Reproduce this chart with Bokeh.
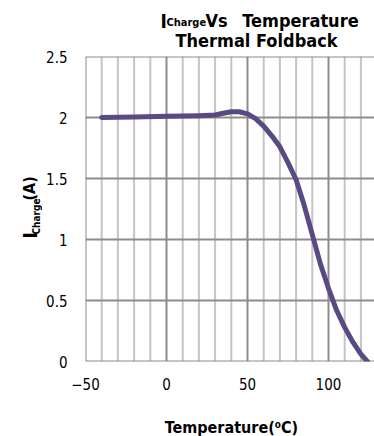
import math
from bokeh.plotting import figure
from bokeh.models import Range1d, Label, FixedTicker
from bokeh.layouts import column, row
from bokeh.embed import file_html
from bokeh.resources import INLINE

# data
temp = [-40, -20, 0, 20, 30, 35, 40, 45, 50, 55, 60, 65, 70, 75, 80, 85, 90, 95, 100, 105, 110, 115, 120, 124]
icharge = [2.00, 2.005, 2.01, 2.015, 2.02, 2.035, 2.047, 2.047, 2.03, 1.99, 1.93, 1.85, 1.76, 1.63, 1.49, 1.28, 1.04, 0.80, 0.60, 0.42, 0.28, 0.16, 0.06, 0.0]
x_ticks = [-50, 0, 50, 100]
x_minor = [-40, -30, -20, -10, 10, 20, 30, 40, 60, 70, 80, 90, 110, 120]
y_ticks = [0, 0.5, 1, 1.5, 2, 2.5]

FONT = "DejaVu Sans Condensed"


def blank(w, h):
    f = figure(width=w, height=h, output_backend="svg", toolbar_location=None,
               x_axis_location=None, y_axis_location=None,
               x_range=Range1d(0, 1), y_range=Range1d(0, 1),
               min_border=0, min_border_left=0, min_border_right=0,
               min_border_top=0, min_border_bottom=0)
    f.outline_line_color = None
    f.xgrid.visible = False
    f.ygrid.visible = False
    return f


def lab(f, x, y, text, size, bold=True, angle=0, align="left"):
    f.add_layout(Label(x=x, y=y, x_units="screen", y_units="screen", text=text,
                       text_font=FONT, text_font_size=size,
                       text_font_style="bold" if bold else "normal",
                       angle=angle, text_align=align, text_baseline="alphabetic",
                       text_color="black"))


# ---- title strip (visible page y 0..50; its frame bottom lands at page 56)
TH = 50
TB = 56
tf = blank(374, TH)
lab(tf, 160, TB - 26, "I", "19px")
lab(tf, 166, TB - 28, "Charge", "11px")
lab(tf, 205, TB - 26, "Vs", "18px")
lab(tf, 300, TB - 26, "Temperature", "18px", align="center")
lab(tf, 256, TB - 46, "Thermal Foldback", "18px", align="center")

# ---- main plot
YW = 42
p = figure(width=374 - YW, height=355, output_backend="svg", toolbar_location=None,
           x_range=Range1d(-50, 128.4), y_range=Range1d(0, 2.5),
           min_border_left=85 - YW, min_border_right=0, min_border_top=6, min_border_bottom=44)
p.outline_line_color = None
p.background_fill_color = "white"

for xv in x_minor:
    p.segment(x0=[xv], y0=[0], x1=[xv], y1=[2.5], line_color="#c4c4c4", line_width=2)
for xv in x_ticks:
    p.segment(x0=[xv], y0=[0], x1=[xv], y1=[2.5], line_color="#8c8c8c", line_width=2)
for yv in y_ticks:
    p.segment(x0=[-50], y0=[yv], x1=[128.4], y1=[yv], line_color="#8c8c8c", line_width=2)

p.xgrid.visible = False
p.ygrid.visible = False

p.line(temp, icharge, line_color="#5a4a84", line_width=5, line_join="round", line_cap="round")

for ax in (p.xaxis[0], p.yaxis[0]):
    ax.axis_line_color = None
    ax.major_tick_line_color = None
    ax.minor_tick_line_color = None
    ax.major_tick_out = 0
    ax.major_tick_in = 0
    ax.minor_tick_out = 0
    ax.minor_tick_in = 0
    ax.major_label_text_font = FONT
    ax.major_label_text_font_size = "15px"
    ax.major_label_text_color = "black"

p.xaxis[0].ticker = FixedTicker(ticks=x_ticks)
p.yaxis[0].ticker = FixedTicker(ticks=y_ticks)
p.yaxis[0].major_label_overrides = {0: "0", 0.5: "0.5", 1: "1", 1.5: "1.5", 2: "2", 2.5: "2.5"}
p.xaxis[0].major_label_standoff = 16
p.yaxis[0].major_label_standoff = 18

# ---- y label strip (its frame is aligned with the main frame: bottom at page 361)
yf = blank(YW, 355)
B = 361
a = math.pi / 2
lab(yf, 29, B - 238, "I", "19px", angle=a)
lab(yf, 36, B - 234, "Charge", "10px", angle=a)
lab(yf, 29, B - 200, "(A)", "16px", angle=a)

# ---- x label strip (page y 405..436)
xf = blank(374, 31)
lab(xf, 231, 436 - 427, "Temperature(⁰C)", "16px", align="center")

layout = column(tf, row(yf, p, spacing=0), xf, spacing=0)

open("out.html", "w").write(file_html(layout, INLINE))
